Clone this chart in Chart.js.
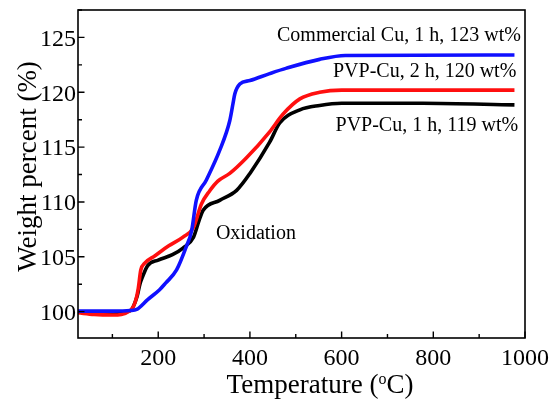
<!DOCTYPE html>
<html>
<head>
<meta charset="utf-8">
<script src="https://cdn.jsdelivr.net/npm/chart.js@4.4.0/dist/chart.umd.min.js"></script>
<style>
  html, body { margin: 0; padding: 0; background: #fff; }
  #wrap { width: 553px; height: 404px; }
</style>
</head>
<body>
<div id="wrap"><canvas id="tgaChart" width="553" height="404"></canvas></div>
<script>
// (temperature in C, weight in %)
const commercialTemp = [25, 100, 139, 153, 177, 203, 216, 240, 261, 273, 283, 305, 334, 356, 363, 367, 378, 400, 443, 480, 552, 608, 977];
const commercialWeight = [100.05, 100.05, 100.1, 100.2, 101.1, 102.0, 102.6, 103.8, 105.9, 107.4, 110.15, 112.0, 114.7, 117.4, 118.95, 119.85, 120.75, 121.07, 121.7, 122.2, 123.0, 123.35, 123.4];

const pvp2hTemp = [25, 60, 100, 139, 150, 156, 162, 170, 193, 223, 254, 277, 294, 312, 330, 356, 392, 443, 472, 509, 552, 600, 977];
const pvp2hWeight = [99.9, 99.75, 99.7, 100.1, 100.9, 102.0, 103.8, 104.4, 105.1, 106.0, 106.8, 107.7, 109.8, 111.0, 111.9, 112.6, 114.0, 116.4, 118.0, 119.4, 120.0, 120.2, 120.2];

const pvp1hTemp = [25, 60, 100, 139, 154, 160, 166, 177, 200, 231, 254, 277, 289, 298, 334, 371, 400, 443, 465, 509, 552, 600, 777, 977];
const pvp1hWeight = [100.0, 99.9, 99.85, 100.1, 101.4, 102.5, 103.2, 104.2, 104.7, 105.2, 105.8, 106.8, 108.3, 109.25, 110.15, 111.06, 112.6, 115.45, 117.2, 118.4, 118.8, 119.0, 119.0, 118.85];

const xTicks = [200, 400, 600, 800, 1000];
const yTicks = [100, 105, 110, 115, 120, 125];

// annotation texts: [text, temperature anchor, weight anchor, align]
const notes = [
    ['Commercial Cu, 1 h, 123 wt%', 991, 125.15, 'right'],
    ['PVP-Cu, 2 h, 120 wt%', 981, 121.9, 'right'],
    ['PVP-Cu, 1 h, 119 wt%', 985, 116.97, 'right'],
    ['Oxidation', 413, 107.1, 'center']
];

const serif = '"Liberation Serif", "Times New Roman", serif';

function toPoints(xs, ys) {
    return xs.map((x, i) => ({ x: x, y: ys[i] }));
}

// box, inward ticks, tick labels, axis titles and the notes
const framePlugin = {
    id: 'frame',
    afterDatasetsDraw(chart) {
        const ctx = chart.ctx;
        const a = chart.chartArea;
        const xs = chart.scales.x;
        const ys = chart.scales.y;
        ctx.save();
        ctx.strokeStyle = '#000';
        ctx.lineWidth = 1.6;
        ctx.strokeRect(a.left, a.top, a.right - a.left, a.bottom - a.top);

        ctx.lineWidth = 1.4;
        ctx.beginPath();
        for (let v = 100; v <= 1000; v += 100) {
            const px = xs.getPixelForValue(v);
            const len = v % 200 === 0 ? 6.5 : 4;
            ctx.moveTo(px, a.bottom);
            ctx.lineTo(px, a.bottom - len);
        }
        for (let v = 97.5; v <= 127.5; v += 2.5) {
            if (v < ys.min || v > ys.max) continue;
            const py = ys.getPixelForValue(v);
            const len = v % 5 === 0 ? 6.5 : 4;
            ctx.moveTo(a.left, py);
            ctx.lineTo(a.left + len, py);
        }
        ctx.stroke();

        ctx.fillStyle = '#000';
        ctx.textBaseline = 'alphabetic';
        ctx.font = '24px ' + serif;
        ctx.textAlign = 'center';
        xTicks.forEach(v => ctx.fillText(String(v), xs.getPixelForValue(v), a.bottom + 27));
        ctx.textAlign = 'right';
        yTicks.forEach(v => ctx.fillText(String(v), a.left - 2, ys.getPixelForValue(v) + 8.3));

        // x title with superscript o
        const big = '27px ' + serif, small = '16px ' + serif;
        ctx.font = big;
        const p1 = 'Temperature (', p3 = 'C)';
        const w1 = ctx.measureText(p1).width, w3 = ctx.measureText(p3).width;
        ctx.font = small;
        const w2 = ctx.measureText('o').width;
        let tx = 320 - (w1 + w2 + w3) / 2;
        const ty = a.bottom + 55;
        ctx.textAlign = 'left';
        ctx.font = big;
        ctx.fillText(p1, tx, ty);
        ctx.font = small;
        ctx.fillText('o', tx + w1, ty - 9);
        ctx.font = big;
        ctx.fillText(p3, tx + w1 + w2, ty);

        // y title
        ctx.save();
        ctx.translate(36, 166.5);
        ctx.rotate(-Math.PI / 2);
        ctx.textAlign = 'center';
        ctx.font = big;
        ctx.fillText('Weight percent (%)', 0, 0);
        ctx.restore();

        ctx.font = '20px ' + serif;
        ctx.textBaseline = 'middle';
        notes.forEach(n => {
            ctx.textAlign = n[3];
            ctx.fillText(n[0], xs.getPixelForValue(n[1]), ys.getPixelForValue(n[2]));
        });
        ctx.restore();
    }
};

const ctx = document.getElementById('tgaChart').getContext('2d');

new Chart(ctx, {
    type: 'line',
    data: {
        datasets: [
            {
                label: 'Commercial Cu, 1 h',
                data: toPoints(commercialTemp, commercialWeight),
                borderColor: '#1010ff',
                borderWidth: 3.6,
                pointRadius: 0,
                cubicInterpolationMode: 'monotone'
            },
            {
                label: 'PVP-Cu, 2 h',
                data: toPoints(pvp2hTemp, pvp2hWeight),
                borderColor: '#ff0f0f',
                borderWidth: 3.6,
                pointRadius: 0,
                cubicInterpolationMode: 'monotone'
            },
            {
                label: 'PVP-Cu, 1 h',
                data: toPoints(pvp1hTemp, pvp1hWeight),
                borderColor: '#000000',
                borderWidth: 3.6,
                pointRadius: 0,
                cubicInterpolationMode: 'monotone'
            }
        ]
    },
    options: {
        responsive: false,
        animation: false,
        layout: { padding: { top: 10, right: 28, left: 0, bottom: 0 } },
        plugins: {
            legend: { display: false },
            tooltip: { enabled: false }
        },
        scales: {
            x: {
                type: 'linear',
                min: 25,
                max: 1000,
                afterFit: s => { s.height = 66; },
                grid: { display: false },
                border: { display: false },
                ticks: { display: false }
            },
            y: {
                type: 'linear',
                min: 97.6,
                max: 127.5,
                afterFit: s => { s.width = 78; },
                grid: { display: false },
                border: { display: false },
                ticks: { display: false }
            }
        }
    },
    plugins: [framePlugin]
});
</script>
</body>
</html>
